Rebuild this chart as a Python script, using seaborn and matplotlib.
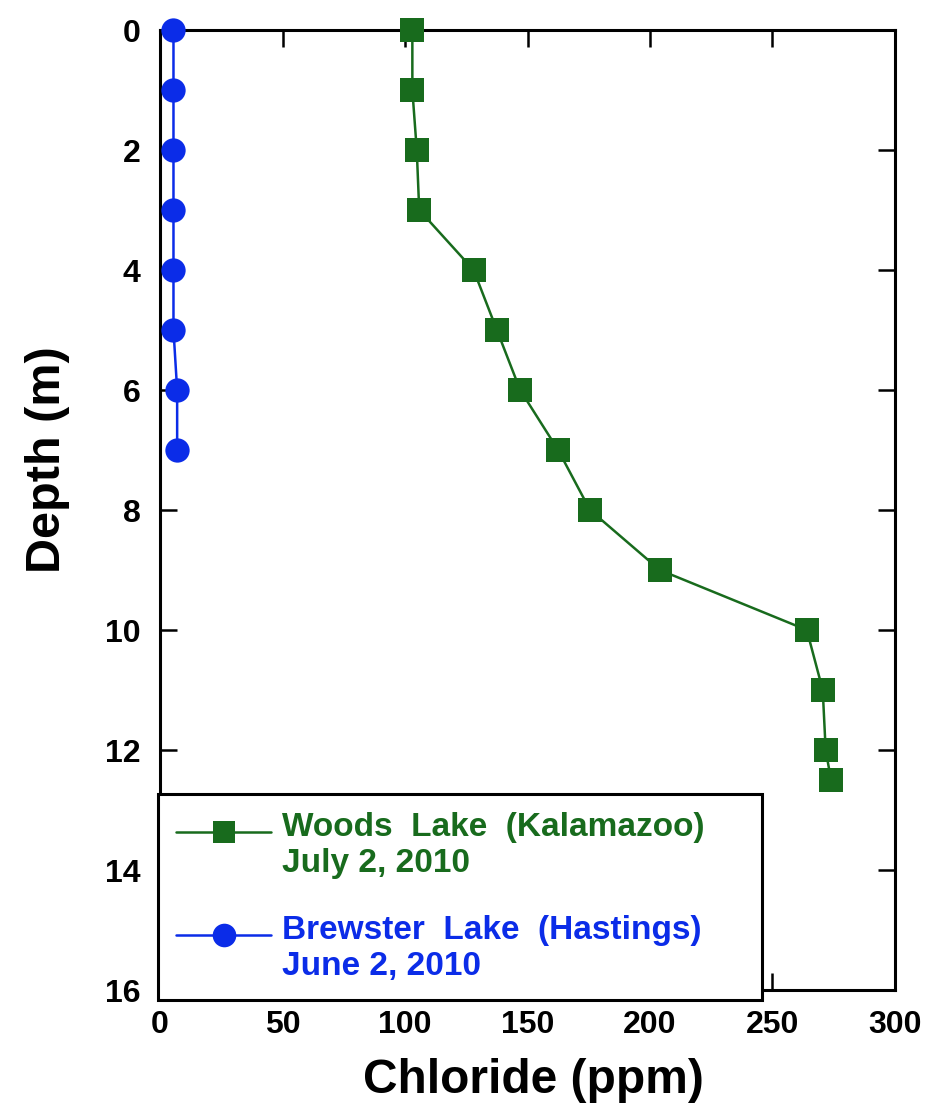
import matplotlib
matplotlib.use("Agg")
import matplotlib.pyplot as plt
import seaborn as sns
import pandas as pd
from matplotlib.lines import Line2D
from matplotlib.legend_handler import HandlerLine2D

# Data
woods_depth = [0, 1, 2, 3, 4, 5, 6, 7, 8, 9, 10, 11, 12, 12.5]
woods_chloride = [103, 103, 104.8, 105.8, 128, 137.5, 147, 162.5, 175.5, 204, 264, 270.5, 271.7, 273.9]
brewster_depth = [0, 1, 2, 3, 4, 5, 6, 7]
brewster_chloride = [5.5, 5.5, 5.5, 5.5, 5.5, 5.5, 7, 7]

woods_label = "Woods  Lake  (Kalamazoo)\nJuly 2, 2010"
brewster_label = "Brewster  Lake  (Hastings)\nJune 2, 2010"
x_ticks = [0, 50, 100, 150, 200, 250, 300]
y_ticks = [0, 2, 4, 6, 8, 10, 12, 14, 16]

green = "#186b1d"
blue = "#0b2ce8"

sns.set_theme(style="ticks")
plt.rcParams['font.family'] = ['Liberation Sans', 'DejaVu Sans']
plt.rcParams['font.weight'] = 'bold'
for k in ['text.color', 'axes.labelcolor', 'xtick.color', 'ytick.color', 'axes.edgecolor']:
    plt.rcParams[k] = 'black'

W, H = 929, 1106
fig = plt.figure(figsize=(W / 100, H / 100), dpi=100)
ax_l, ax_r, ax_t, ax_b = 160, 895, 30, 990
ax = fig.add_axes([ax_l / W, 1 - ax_b / H, (ax_r - ax_l) / W, (ax_b - ax_t) / H])

woods = pd.DataFrame({"depth": woods_depth, "chloride": woods_chloride})
brew = pd.DataFrame({"depth": brewster_depth, "chloride": brewster_chloride})

sns.lineplot(data=woods, x="chloride", y="depth", sort=False, estimator=None,
             color=green, marker="s", markersize=17, markeredgewidth=0,
             linewidth=1.8, ax=ax, zorder=3, clip_on=False)
sns.lineplot(data=brew, x="chloride", y="depth", sort=False, estimator=None,
             color=blue, marker="o", markersize=17.5, markeredgewidth=0,
             linewidth=1.8, ax=ax, zorder=3, clip_on=False)

ax.set_xlim(0, 300)
ax.set_ylim(16, 0)
ax.set_xticks(x_ticks)
ax.set_yticks(y_ticks)
ax.set_xticklabels([str(v) for v in x_ticks], fontsize=23, fontweight='bold')
ax.set_yticklabels([str(v) for v in y_ticks], fontsize=23, fontweight='bold')
ax.tick_params(direction='in', length=12, width=1.8, top=True, right=True,
               colors='black')
ax.tick_params(axis='x', pad=14.5)
ax.tick_params(axis='y', pad=14)
for s in ax.spines.values():
    s.set_linewidth(2.2)
    s.set_color('black')

ax.set_xlabel("Chloride (ppm)", fontsize=34.5, fontweight='bold')
ax.set_ylabel("Depth (m)", fontsize=35, fontweight='bold')
ax.xaxis.set_label_coords((533 - ax_l) / (ax_r - ax_l), -(1058 - ax_b) / (ax_b - ax_t))
ax.yaxis.set_label_coords(-(ax_l - 70) / (ax_r - ax_l), (ax_b - 460) / (ax_b - ax_t))


class ShiftedHandler(HandlerLine2D):
    def __init__(self, shift, **kw):
        super().__init__(**kw)
        self.shift = shift

    def create_artists(self, legend, orig_handle, xdescent, ydescent, width,
                       height, fontsize, trans):
        arts = super().create_artists(legend, orig_handle, xdescent, ydescent,
                                      width, height, fontsize, trans)
        for a in arts:
            a.set_ydata([y + self.shift for y in a.get_ydata()])
        return arts


h_woods = Line2D([], [], color=green, marker="s", markersize=16.5, linewidth=1.8,
                 markeredgewidth=0)
h_brew = Line2D([], [], color=blue, marker="o", markersize=17, linewidth=1.8,
                markeredgewidth=0)
leg_x0 = (158 - ax_l) / (ax_r - ax_l)
leg_y0 = -(1000 - ax_b) / (ax_b - ax_t)
leg_w = (762 - 158) / (ax_r - ax_l)
leg = ax.legend([h_woods, h_brew], [woods_label, brewster_label], loc='lower left',
                bbox_to_anchor=(leg_x0, leg_y0, leg_w, 0.2), mode='expand',
                borderaxespad=0, frameon=True, fancybox=False, framealpha=1,
                handlelength=2.85, handletextpad=0.33,
                labelspacing=1.08, borderpad=0.55,
                prop={'weight': 'bold', 'size': 24},
                handler_map={h_woods: ShiftedHandler(10), h_brew: ShiftedHandler(10)})
leg.get_frame().set_edgecolor('black')
leg.get_frame().set_linewidth(2.2)
leg.set_zorder(5)
for t, c in zip(leg.get_texts(), [green, blue]):
    t.set_color(c)

fig.savefig("out.png", dpi=100)
